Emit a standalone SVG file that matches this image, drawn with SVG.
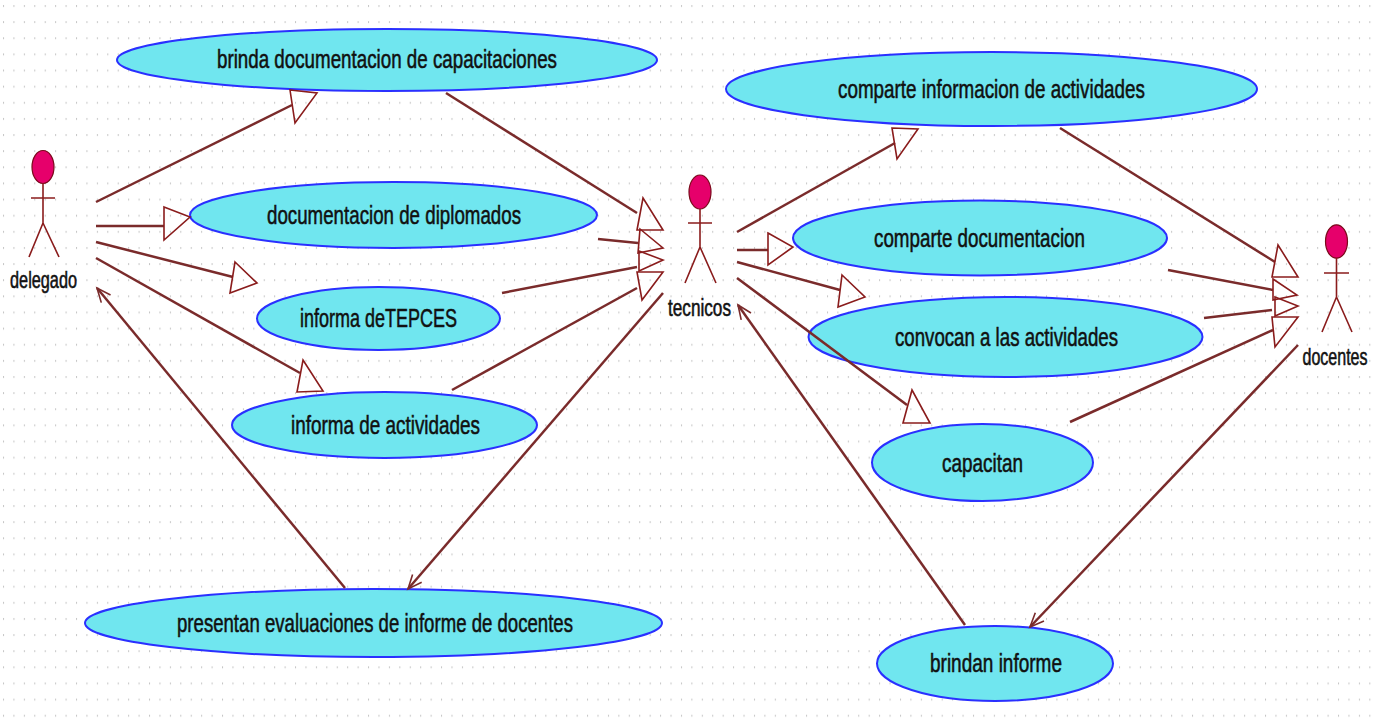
<svg xmlns="http://www.w3.org/2000/svg" width="1374" height="722" viewBox="0 0 1374 722">
<defs>
<pattern id="grid" patternUnits="userSpaceOnUse" x="3" y="5" width="10.43" height="16.13">
<rect x="0" y="0" width="1" height="2" fill="#c6c6c6"/>
</pattern>
<marker id="v" markerUnits="userSpaceOnUse" markerWidth="20" markerHeight="20" viewBox="-16 -10 20 20" refX="0" refY="0" orient="auto">
<path d="M-14,-6 L0,0 L-14,6" fill="none" stroke="#7a2b2b" stroke-width="1.6"/>
</marker>
</defs>
<style>
.uc{fill:#70e6ef;stroke:#2a30ff;stroke-width:2}
.t{font-family:"Liberation Sans",Arial,sans-serif;font-size:26px;fill:#111;stroke:#111;stroke-width:0.55;text-anchor:middle}
.a{font-family:"Liberation Sans",Arial,sans-serif;font-size:23px;fill:#111;stroke:#111;stroke-width:0.55;text-anchor:middle}
.ln{stroke:#7a2b2b;stroke-width:2.5;fill:none}
.tri{stroke:#8a1c1c;stroke-width:1.6;fill:none;stroke-linejoin:miter}
.head{fill:#e6006b;stroke:#7a0a1a;stroke-width:1.2}
.body{stroke:#8a1c1c;stroke-width:1.6;fill:none}
</style>
<rect width="1374" height="722" fill="#ffffff"/>
<rect width="1374" height="722" fill="url(#grid)"/>

<g id="uc-brinda-doc">
<ellipse class="uc" cx="387" cy="60" rx="270" ry="31"/>
<text class="t" x="387" y="68" textLength="340" lengthAdjust="spacingAndGlyphs">brinda documentacion de capacitaciones</text>
</g>
<g id="uc-diplomados">
<ellipse class="uc" cx="393.5" cy="215" rx="203.5" ry="33"/>
<text class="t" x="394" y="224" textLength="254" lengthAdjust="spacingAndGlyphs">documentacion de diplomados</text>
</g>
<g id="uc-tepces">
<ellipse class="uc" cx="378.5" cy="318.5" rx="121.5" ry="31.5"/>
<text class="t" x="378.5" y="327" textLength="157" lengthAdjust="spacingAndGlyphs">informa deTEPCES</text>
</g>
<g id="uc-informa-act">
<ellipse class="uc" cx="384.5" cy="425" rx="152.5" ry="33"/>
<text class="t" x="385.5" y="434" textLength="189" lengthAdjust="spacingAndGlyphs">informa de actividades</text>
</g>
<g id="uc-presentan">
<ellipse class="uc" cx="373.5" cy="623" rx="288.5" ry="34"/>
<text class="t" x="375" y="632" textLength="396" lengthAdjust="spacingAndGlyphs">presentan evaluaciones de informe de docentes</text>
</g>
<g id="uc-comparte-info">
<ellipse class="uc" cx="991.5" cy="89" rx="265.5" ry="37"/>
<text class="t" x="991.5" y="98" textLength="307" lengthAdjust="spacingAndGlyphs">comparte informacion de actividades</text>
</g>
<g id="uc-comparte-doc">
<ellipse class="uc" cx="980" cy="238" rx="187" ry="37.5"/>
<text class="t" x="979.5" y="247" textLength="211" lengthAdjust="spacingAndGlyphs">comparte documentacion</text>
</g>
<g id="uc-convocan">
<ellipse class="uc" cx="1005.5" cy="337" rx="197" ry="40"/>
<text class="t" x="1006.5" y="346" textLength="223" lengthAdjust="spacingAndGlyphs">convocan a las actividades</text>
</g>
<g id="uc-capacitan">
<ellipse class="uc" cx="982.5" cy="462.5" rx="110.5" ry="38.5"/>
<text class="t" x="982.5" y="472" textLength="81" lengthAdjust="spacingAndGlyphs">capacitan</text>
</g>
<g id="uc-brindan-informe">
<ellipse class="uc" cx="995" cy="663.5" rx="118" ry="37.5"/>
<text class="t" x="996" y="672" textLength="132" lengthAdjust="spacingAndGlyphs">brindan informe</text>
</g>

<g id="actor-delegado">
<ellipse class="head" cx="43" cy="167" rx="11" ry="16.5"/>
<path class="body" d="M43,183.5 V223 M31,198 H55 M43,223 L29,257 M43,223 L59,257"/>
<text class="a" transform="translate(43.5,288) scale(0.708,1)" x="0" y="0">delegado</text>
</g>
<g id="actor-tecnicos">
<ellipse class="head" cx="700" cy="192" rx="11" ry="17"/>
<path class="body" d="M700,209 V247 M688,223 H712 M700,247 L685,283 M700,247 L716,283"/>
<text class="a" transform="translate(699.5,316) scale(0.746,1)" x="0" y="0">tecnicos</text>
</g>
<g id="actor-docentes">
<ellipse class="head" cx="1336.5" cy="241.5" rx="11" ry="16.7"/>
<path class="body" d="M1336.5,258 V297 M1324,273 H1349 M1336.5,297 L1322,332 M1336.5,297 L1352,332"/>
<text class="a" transform="translate(1335,365) scale(0.697,1)" x="0" y="0">docentes</text>
</g>

<g id="connectors">
<line class="ln" x1="96" y1="202" x2="292" y2="105"/>
<polygon class="tri" points="290,90 317,93 295,123"/>
<line class="ln" x1="96" y1="226" x2="164" y2="226"/>
<polygon class="tri" points="164,207 190,217 164,240"/>
<line class="ln" x1="96" y1="242" x2="233" y2="277"/>
<polygon class="tri" points="235,262 257,283 230,293"/>
<line class="ln" x1="96" y1="258" x2="300" y2="373"/>
<polygon class="tri" points="303,360 323,391 297,392"/>
<line class="ln" x1="345" y1="588" x2="97" y2="288" marker-end="url(#v)"/>

<line class="ln" x1="446" y1="93" x2="637" y2="213"/>
<polygon class="tri" points="643,198 663,230 637,230"/>
<line class="ln" x1="598" y1="239" x2="638" y2="243"/>
<polygon class="tri" points="640,229 663,248 638,253"/>
<line class="ln" x1="502" y1="293" x2="637" y2="267"/>
<polygon class="tri" points="639,251 663,260 639,271"/>
<line class="ln" x1="452" y1="390" x2="637" y2="288"/>
<polygon class="tri" points="637,272 663,272 642,300"/>
<line class="ln" x1="663" y1="293" x2="408" y2="589" marker-end="url(#v)"/>

<line class="ln" x1="737" y1="232" x2="895" y2="143"/>
<polygon class="tri" points="892,128 918,129 897,159"/>
<line class="ln" x1="737" y1="250" x2="768" y2="250"/>
<polygon class="tri" points="768,233 793,247 768,265"/>
<line class="ln" x1="737" y1="262" x2="840" y2="290"/>
<polygon class="tri" points="842,275 865,297 838,307"/>
<line class="ln" x1="737" y1="278" x2="907" y2="405"/>
<polygon class="tri" points="912,390 930,423 903,423"/>
<line class="ln" x1="965" y1="625" x2="738" y2="305" marker-end="url(#v)"/>

<line class="ln" x1="1060" y1="128" x2="1275" y2="262"/>
<polygon class="tri" points="1278,245 1298,277 1272,277"/>
<line class="ln" x1="1168" y1="270" x2="1273" y2="290"/>
<polygon class="tri" points="1273,279 1297,295 1273,300"/>
<line class="ln" x1="1204" y1="318" x2="1272" y2="310"/>
<polygon class="tri" points="1275,297 1298,306 1275,316"/>
<line class="ln" x1="1070" y1="422" x2="1273" y2="330"/>
<polygon class="tri" points="1272,317 1298,317 1275,347"/>
<line class="ln" x1="1298" y1="345" x2="1030" y2="627" marker-end="url(#v)"/>
</g>
</svg>
